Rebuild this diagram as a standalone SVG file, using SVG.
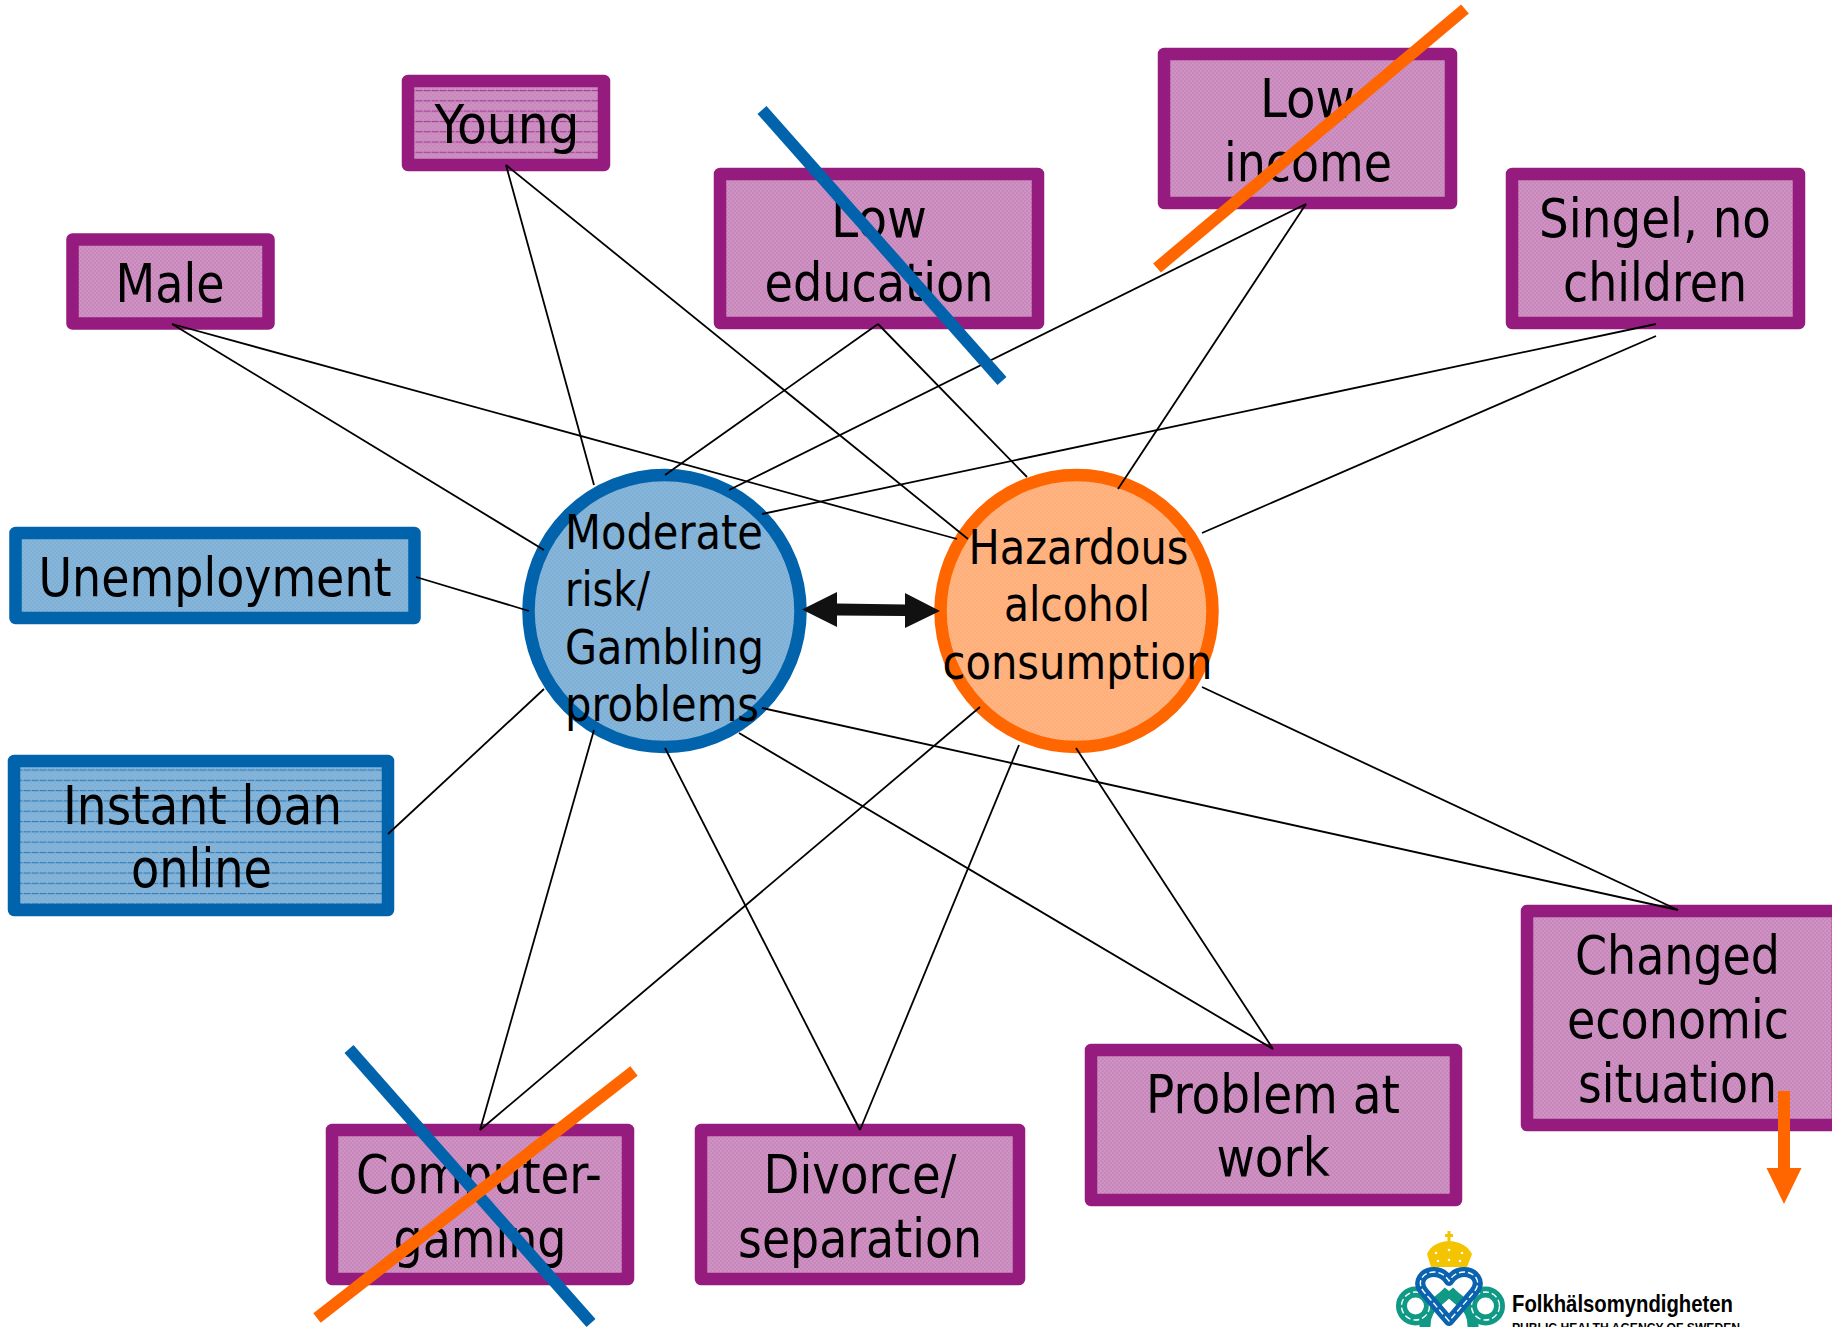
<svg xmlns="http://www.w3.org/2000/svg" width="1832" height="1327" viewBox="0 0 1832 1327">
<defs>
<pattern id="pp" width="4" height="4" patternUnits="userSpaceOnUse"><rect width="4" height="4" fill="#CE92C3"/><rect width="2" height="2" fill="#C787BB"/><rect x="2" y="2" width="2" height="2" fill="#C787BB"/></pattern>
<pattern id="pb" width="4" height="4" patternUnits="userSpaceOnUse"><rect width="4" height="4" fill="#86B6DA"/><rect width="2" height="2" fill="#7FAFD5"/><rect x="2" y="2" width="2" height="2" fill="#7FAFD5"/></pattern>
<pattern id="po" width="4" height="4" patternUnits="userSpaceOnUse"><rect width="4" height="4" fill="#FFB583"/><rect width="2" height="2" fill="#FFAE78"/><rect x="2" y="2" width="2" height="2" fill="#FFAE78"/></pattern>
<pattern id="ppl" width="8" height="10.3" y="90" patternUnits="userSpaceOnUse"><rect width="8" height="10.3" fill="url(#pp)"/><path d="M0 0.5H6" stroke="#A43E95" stroke-width="1.2"/><path d="M6 0.5H8" stroke="#B968AC" stroke-width="1.2"/></pattern>
<pattern id="pbl" width="8" height="10.3" y="769.5" patternUnits="userSpaceOnUse"><rect width="8" height="10.3" fill="url(#pb)"/><path d="M0 0.5H6" stroke="#2F7CBC" stroke-width="1.2"/><path d="M6 0.5H8" stroke="#5D9ACB" stroke-width="1.2"/></pattern>
</defs>
<style>
text{font-family:"DejaVu Sans Condensed","DejaVu Sans",sans-serif;font-stretch:condensed;fill:#000}
.b{font-size:53px}
.c{font-size:48px}
.box{stroke-width:12.5;stroke-linejoin:round}
.pu{stroke:#951C7E;fill:url(#pp)}
.bl{stroke:#0063AC;fill:url(#pb)}
#connectors line{stroke:#000;stroke-width:1.8;fill:none}
.logo{font-family:"Liberation Sans",sans-serif;font-weight:bold;font-stretch:normal}
</style>
<g id="node-male"><rect class="box pu" x="72.5" y="239.5" width="196" height="84"/><text class="b" x="115.5" y="301.7" textLength="109" lengthAdjust="spacingAndGlyphs">Male</text></g>
<g id="node-young"><rect class="box pu" style="fill:url(#ppl)" x="408" y="81" width="196" height="84"/><text class="b" x="434.5" y="143" textLength="145" lengthAdjust="spacingAndGlyphs">Young</text></g>
<g id="node-low-education"><rect class="box pu" x="720" y="174" width="318" height="149"/><text class="b" x="831" y="237" textLength="96" lengthAdjust="spacingAndGlyphs">Low</text><text class="b" x="764.5" y="300.5" textLength="229" lengthAdjust="spacingAndGlyphs">education</text></g>
<g id="node-low-income"><rect class="box pu" x="1164" y="54" width="287" height="149"/><text class="b" x="1260" y="117" textLength="95" lengthAdjust="spacingAndGlyphs">Low</text><text class="b" x="1224" y="180.5" textLength="168" lengthAdjust="spacingAndGlyphs">income</text></g>
<g id="node-singel"><rect class="box pu" x="1512" y="174" width="287" height="149"/><text class="b" x="1539" y="237" textLength="232" lengthAdjust="spacingAndGlyphs">Singel, no</text><text class="b" x="1563" y="300.5" textLength="184" lengthAdjust="spacingAndGlyphs">children</text></g>
<g id="node-unemployment"><rect class="box bl" x="15.5" y="533" width="399" height="85"/><text class="b" x="38.5" y="596" textLength="353" lengthAdjust="spacingAndGlyphs">Unemployment</text></g>
<g id="node-instant-loan"><rect class="box bl" style="fill:url(#pbl)" x="14" y="761" width="374" height="149"/><text class="b" x="63" y="823.5" textLength="279" lengthAdjust="spacingAndGlyphs">Instant loan</text><text class="b" x="131" y="887" textLength="141" lengthAdjust="spacingAndGlyphs">online</text></g>
<g id="node-changed"><rect class="box pu" x="1527" y="911" width="311" height="214"/><text class="b" x="1575" y="973.6" textLength="205" lengthAdjust="spacingAndGlyphs">Changed</text><text class="b" x="1567" y="1038" textLength="222" lengthAdjust="spacingAndGlyphs">economic</text><text class="b" x="1578" y="1102" textLength="199" lengthAdjust="spacingAndGlyphs">situation</text></g>
<g id="node-problem"><rect class="box pu" x="1091" y="1050" width="365" height="150"/><text class="b" x="1146" y="1112.7" textLength="254" lengthAdjust="spacingAndGlyphs">Problem at</text><text class="b" x="1216.5" y="1176" textLength="113.5" lengthAdjust="spacingAndGlyphs">work</text></g>
<g id="node-divorce"><rect class="box pu" x="701" y="1130" width="318" height="149"/><text class="b" x="763.5" y="1193" textLength="193" lengthAdjust="spacingAndGlyphs">Divorce/</text><text class="b" x="738" y="1257" textLength="244" lengthAdjust="spacingAndGlyphs">separation</text></g>
<g id="node-computer"><rect class="box pu" x="332" y="1130" width="296" height="149"/><text class="b" x="356" y="1192.7" textLength="246" lengthAdjust="spacingAndGlyphs">Computer-</text><text class="b" x="393.5" y="1257" textLength="173" lengthAdjust="spacingAndGlyphs">gaming</text></g>
<g id="node-gambling"><circle cx="664.5" cy="611" r="136" fill="url(#pb)" stroke="#0063AC" stroke-width="12.5"/><text class="c" x="565" y="549" textLength="198" lengthAdjust="spacingAndGlyphs">Moderate</text><text class="c" x="565" y="606" textLength="85" lengthAdjust="spacingAndGlyphs">risk/</text><text class="c" x="565" y="664" textLength="199" lengthAdjust="spacingAndGlyphs">Gambling</text><text class="c" x="565" y="721" textLength="194" lengthAdjust="spacingAndGlyphs">problems</text></g>
<g id="node-alcohol"><circle cx="1076.5" cy="611" r="136" fill="url(#po)" stroke="#FF6600" stroke-width="12.5"/><text class="c" x="968.5" y="564" textLength="220" lengthAdjust="spacingAndGlyphs">Hazardous</text><text class="c" x="1004" y="621" textLength="146" lengthAdjust="spacingAndGlyphs">alcohol</text><text class="c" x="942.5" y="679" textLength="270" lengthAdjust="spacingAndGlyphs">consumption</text></g>
<g id="connectors">
<line x1="172" y1="324" x2="544" y2="550"/>
<line x1="172" y1="324" x2="957" y2="539"/>
<line x1="506" y1="165" x2="594" y2="485"/>
<line x1="506" y1="165" x2="968" y2="539"/>
<line x1="878" y1="324" x2="665" y2="475"/>
<line x1="878" y1="324" x2="1027" y2="477"/>
<line x1="1306" y1="204" x2="729" y2="490"/>
<line x1="1306" y1="204" x2="1118" y2="489"/>
<line x1="1656" y1="324" x2="762" y2="514"/>
<line x1="1656" y1="336" x2="1202" y2="533"/>
<line x1="416" y1="577" x2="529" y2="611"/>
<line x1="388" y1="834" x2="544" y2="689"/>
<line x1="480" y1="1130" x2="594" y2="730"/>
<line x1="480" y1="1130" x2="980" y2="707"/>
<line x1="860" y1="1130" x2="665" y2="748"/>
<line x1="860" y1="1130" x2="1019" y2="745"/>
<line x1="1273" y1="1049" x2="739" y2="733"/>
<line x1="1273" y1="1049" x2="1076" y2="748"/>
<line x1="1678" y1="910" x2="762" y2="708"/>
<line x1="1678" y1="910" x2="1202" y2="687"/>
<path id="double-arrow" d="M802 609.5L837 592V603.5L905 604.5V593L940 611L905 628V616L837 615.5V627Z" fill="#111"/>
<line style="stroke:#0063AC;stroke-width:12" x1="762" y1="110" x2="1002" y2="381"/>
<line style="stroke:#FF6600;stroke-width:12" x1="1465" y1="9" x2="1157" y2="268"/>
<line style="stroke:#0063AC;stroke-width:12" x1="349" y1="1049" x2="591" y2="1323"/>
<line style="stroke:#FF6600;stroke-width:12" x1="634" y1="1071" x2="317" y2="1318"/>
<path id="down-arrow" d="M1778 1091H1790V1168H1801.5L1784 1204L1766.5 1168H1778Z" fill="#FF6600"/>
</g>
<g id="logo">
<g fill="none" stroke="#109A86" stroke-width="11">
<circle cx="1415.5" cy="1306" r="14"/><circle cx="1485.5" cy="1306" r="14"/><path d="M1449 1291C1443 1298 1432 1304 1428 1312C1424 1320 1424 1332 1428 1340M1449 1291C1455 1298 1466 1304 1470 1312C1474 1320 1474 1332 1470 1340"/>
</g>
<g fill="none" stroke="#fff" stroke-width="1.4" stroke-dasharray="6 3">
<circle cx="1415.5" cy="1306" r="14"/><circle cx="1485.5" cy="1306" r="14"/>
</g>
<path d="M1449 1321L1424 1292C1415 1281 1424 1272 1434 1272C1441 1272 1446 1276 1449 1281C1452 1276 1457 1272 1464 1272C1474 1272 1483 1281 1474 1292Z" fill="none" stroke="#0A63AE" stroke-width="10" stroke-linejoin="round"/>
<path d="M1449 1321L1424 1292C1415 1281 1424 1272 1434 1272C1441 1272 1446 1276 1449 1281C1452 1276 1457 1272 1464 1272C1474 1272 1483 1281 1474 1292Z" fill="none" stroke="#fff" stroke-width="1.4" stroke-dasharray="6 3"/>
<path d="M1431 1267L1427 1254C1430 1246 1440 1241 1449 1241C1458 1241 1468 1246 1472 1254L1467 1267Z" fill="#F5C400"/>
<path d="M1447.5 1231H1450.5V1234H1453V1237H1450.5V1241H1447.5V1237H1445V1234H1447.5Z" fill="#F5C400"/>
<g fill="#fff"><circle cx="1436" cy="1253" r="1.3"/><circle cx="1449" cy="1250" r="1.3"/><circle cx="1462" cy="1253" r="1.3"/><circle cx="1438" cy="1261" r="1.3"/><circle cx="1449" cy="1260" r="1.3"/><circle cx="1460" cy="1261" r="1.3"/></g>
<text class="logo" x="1512" y="1312" font-size="24" textLength="221" lengthAdjust="spacingAndGlyphs">Folkhälsomyndigheten</text>
<text class="logo" x="1512" y="1332" font-size="13" textLength="228" lengthAdjust="spacingAndGlyphs">PUBLIC HEALTH AGENCY OF SWEDEN</text>
</g>
</svg>
